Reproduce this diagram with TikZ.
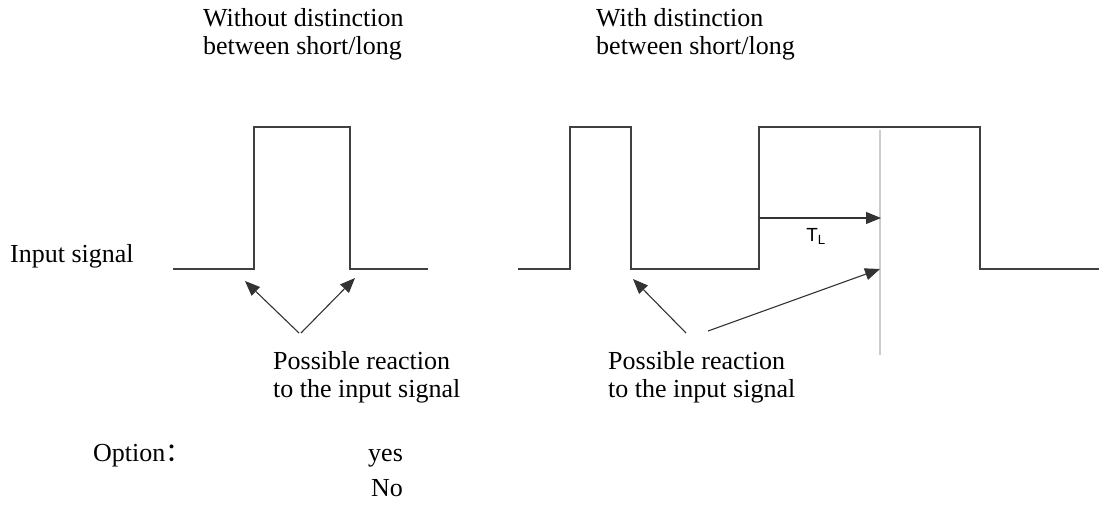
\documentclass[tikz,border=0pt]{standalone}
\usepackage{fontspec}
\setmainfont{Liberation Serif}
\newfontfamily\arialfont{Liberation Sans}
\newfontfamily\cjk{Noto Sans CJK SC}
\usetikzlibrary{arrows.meta}

\begin{document}
\begin{tikzpicture}[
        x=1pt, y=-1pt,
        signal/.style = {draw=black!75, line width=1.4pt},
        react/.style  = {draw=black!80, line width=1.1pt, -{Triangle[length=15pt,width=12pt]}},
        marker/.style = {draw=black!20, line width=1.5pt},
        txt/.style    = {anchor=base west, inner sep=0pt, font=\fontsize{26}{28}\selectfont}
    ]
        \useasboundingbox (0,0) rectangle (1099,511);
        % headings
        \node[txt] (headA) at (203,27) {\begin{tabular}[t]{@{}l@{}}Without distinction\\between short/long\end{tabular}};
        \node[txt] (headB) at (596,27) {\begin{tabular}[t]{@{}l@{}}With distinction\\between short/long\end{tabular}};
        \node[txt] (input) at (10,262) {Input signal};
        % long pulse limit
        \draw[marker] (880,130) -- (880,355);
        % signals
        \draw[signal] (173,269) -- (254,269) -- (254,127) -- (350,127) -- (350,269) -- (428,269);
        \draw[signal] (518,269) -- (570,269) -- (570,127) -- (631,127) -- (631,269) -- (759,269)
            -- (759,127) -- (980,127) -- (980,269) -- (1099,269);
        % arrow ends
        \coordinate (meetA) at (299,333);
        \coordinate (riseA) at (245,281);
        \coordinate (fallA) at (355,278);
        \coordinate (meetB) at (686,333);
        \coordinate (fallB) at (633,279);
        \coordinate (startL) at (708,331);
        \coordinate (limitL) at (880,269);
        \coordinate (riseB) at (759,218);
        \coordinate (limitT) at (881,218);
        \draw[react] (meetA) -- (riseA);
        \draw[react] ([xshift=2pt]meetA) -- (fallA);
        \draw[react] (meetB) -- (fallB);
        \draw[react] (startL) -- (limitL);
        \draw[react] (riseB) -- node[below=10pt, inner sep=0pt, xshift=-4pt, font=\arialfont\fontsize{19}{19}\selectfont] (tl) {T\textsubscript{L}} (limitT);
        % reactions
        \node[txt] (reactA) at (273,369) {\begin{tabular}[t]{@{}l@{}}Possible reaction\\to the input signal\end{tabular}};
        \node[txt] (reactB) at (608,369) {\begin{tabular}[t]{@{}l@{}}Possible reaction\\to the input signal\end{tabular}};
        % option
        \node[txt] (option) at (93,461) {Option{\cjk ：}};
        \node[txt] (yes) at (368,461) {yes};
        \node[txt] (no) at (371,496) {No};
    \end{tikzpicture}
\end{document}
